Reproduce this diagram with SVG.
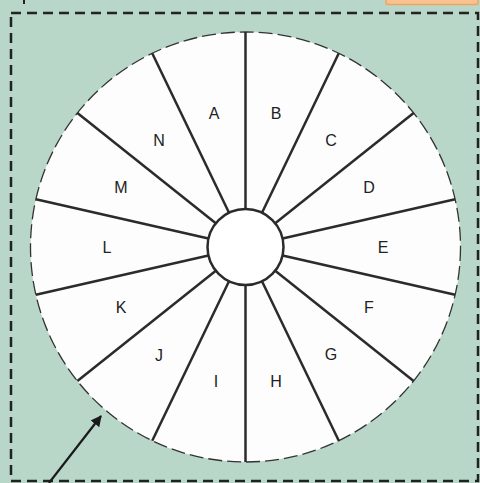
<svg xmlns="http://www.w3.org/2000/svg" width="480" height="483" viewBox="0 0 480 483">
  <style>
    .spoke{stroke:#2b2b2b;stroke-width:2.5;fill:none}
    .lbl{font-family:"Liberation Sans",Arial,sans-serif;font-size:16px;fill:#222;text-anchor:middle;dominant-baseline:central}
  </style>
  <defs>
    <marker id="ah" viewBox="0 0 10 10" refX="9" refY="5" markerWidth="5" markerHeight="5" orient="auto">
      <path d="M0,0 L10,5 L0,10 z" fill="#1a1a1a"/>
    </marker>
  </defs>
  <rect x="0" y="0" width="480" height="483" fill="#b8d7c9"/>
  <rect x="386" y="-10" width="92" height="14.5" rx="2" fill="#f8c391" stroke="#f0a464" stroke-width="1.5"/>
  <line x1="24" y1="0" x2="24" y2="4" stroke="#222" stroke-width="2"/>
  <rect id="frame" x="11" y="13" width="467" height="468" fill="none" stroke="#222" stroke-width="2.5" stroke-dasharray="10 6"/>
  <g id="wheel">
    <circle cx="245.5" cy="247" r="215" fill="#fdfdfe" stroke="#333" stroke-width="1.3" stroke-dasharray="14 5"/>
    <g transform="translate(245.5 247)">
      <line class="spoke" x1="0" y1="-38" x2="0" y2="-215"/>
      <line class="spoke" x1="0" y1="-38" x2="0" y2="-215" transform="rotate(25.714)"/>
      <line class="spoke" x1="0" y1="-38" x2="0" y2="-215" transform="rotate(51.429)"/>
      <line class="spoke" x1="0" y1="-38" x2="0" y2="-215" transform="rotate(77.143)"/>
      <line class="spoke" x1="0" y1="-38" x2="0" y2="-215" transform="rotate(102.857)"/>
      <line class="spoke" x1="0" y1="-38" x2="0" y2="-215" transform="rotate(128.571)"/>
      <line class="spoke" x1="0" y1="-38" x2="0" y2="-215" transform="rotate(154.286)"/>
      <line class="spoke" x1="0" y1="-38" x2="0" y2="-215" transform="rotate(180)"/>
      <line class="spoke" x1="0" y1="-38" x2="0" y2="-215" transform="rotate(205.714)"/>
      <line class="spoke" x1="0" y1="-38" x2="0" y2="-215" transform="rotate(231.429)"/>
      <line class="spoke" x1="0" y1="-38" x2="0" y2="-215" transform="rotate(257.143)"/>
      <line class="spoke" x1="0" y1="-38" x2="0" y2="-215" transform="rotate(282.857)"/>
      <line class="spoke" x1="0" y1="-38" x2="0" y2="-215" transform="rotate(308.571)"/>
      <line class="spoke" x1="0" y1="-38" x2="0" y2="-215" transform="rotate(334.286)"/>
      <circle cx="0" cy="0" r="38" fill="#fff" stroke="#2b2b2b" stroke-width="2.5"/>
    </g>
  </g>
  <g id="sector-A"><text class="lbl" x="214" y="113">A</text></g>
  <g id="sector-B"><text class="lbl" x="276" y="113">B</text></g>
  <g id="sector-C"><text class="lbl" x="331" y="140">C</text></g>
  <g id="sector-D"><text class="lbl" x="369" y="187">D</text></g>
  <g id="sector-E"><text class="lbl" x="383" y="247">E</text></g>
  <g id="sector-F"><text class="lbl" x="369" y="307">F</text></g>
  <g id="sector-G"><text class="lbl" x="331" y="354">G</text></g>
  <g id="sector-H"><text class="lbl" x="276" y="381">H</text></g>
  <g id="sector-I"><text class="lbl" x="216" y="381">I</text></g>
  <g id="sector-J"><text class="lbl" x="159" y="355">J</text></g>
  <g id="sector-K"><text class="lbl" x="121" y="307">K</text></g>
  <g id="sector-L"><text class="lbl" x="107" y="247">L</text></g>
  <g id="sector-M"><text class="lbl" x="121" y="187">M</text></g>
  <g id="sector-N"><text class="lbl" x="159" y="140">N</text></g>
  <g id="connectors">
    <line x1="49" y1="483" x2="101" y2="416" stroke="#1a1a1a" stroke-width="2.2" marker-end="url(#ah)"/>
  </g>
</svg>
